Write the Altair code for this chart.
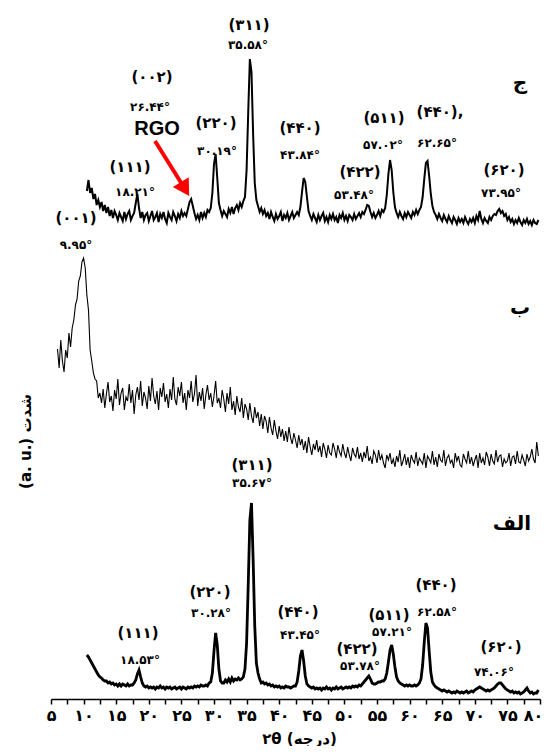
import altair as alt
import pandas as pd

# ---------------- data ----------------
X_STEP = 0.25

# trace ج (top) : first sample at 2θ = 10.5
C_START = 10.5
C_VALUES = [
    508, 519, 506, 511, 500, 505, 494, 499, 492, 497, 488, 494, 486, 492, 483, 489,
    481, 488, 484, 479, 486, 482, 478, 487, 480, 485, 488, 479, 483, 486, 496, 505,
    491, 481, 487, 479, 484, 486, 478, 483, 488, 479, 482, 486, 477, 485, 481, 487,
    480, 476, 486, 482, 479, 487, 483, 478, 485, 481, 488, 483, 486, 483, 490, 497,
    500, 493, 486, 480, 484, 479, 487, 481, 486, 482, 489, 487, 491, 506, 535, 545,
    521, 496, 489, 483, 488, 485, 482, 490, 486, 492, 485, 491, 494, 489, 496, 492,
    498, 502, 529, 587, 640, 627, 565, 516, 499, 493, 487, 491, 485, 489, 483, 486,
    480, 487, 482, 478, 485, 480, 483, 487, 478, 484, 481, 486, 479, 483, 487, 481,
    484, 487, 484, 492, 507, 521, 517, 502, 488, 483, 479, 485, 481, 477, 484, 479,
    483, 486, 478, 482, 477, 484, 480, 485, 479, 482, 476, 484, 481, 486, 479, 483,
    478, 484, 482, 479, 485, 480, 483, 486, 482, 487, 485, 489, 494, 493, 487, 482,
    486, 481, 484, 488, 483, 489, 487, 491, 504, 525, 539, 529, 507, 492, 486, 482,
    487, 483, 480, 486, 482, 487, 484, 481, 487, 484, 489, 485, 489, 492, 502, 520,
    536, 538, 523, 505, 493, 487, 484, 480, 485, 481, 478, 484, 480, 477, 483, 479,
    476, 482, 479, 475, 481, 477, 480, 476, 482, 478, 475, 480, 477, 481, 476, 483,
    479, 488, 480, 476, 481, 478, 476, 482, 479, 483, 485, 484, 488, 490, 486, 488,
    483, 485, 479, 482, 477, 480, 475, 479, 476, 481, 477, 474, 479, 476, 480, 475,
    478, 474, 479, 476, 475, 479,
]

# trace ب (middle) : first sample at 2θ = 6.0
B_START = 6.0
B_VALUES = [
    350, 331, 359, 338, 327, 349, 341, 366, 352, 371, 379, 394, 400, 418, 423, 437,
    441, 431, 404, 389, 349, 338, 326, 320, 318, 301, 306, 296, 310, 291, 305, 317,
    297, 303, 288, 309, 300, 320, 294, 306, 311, 289, 302, 298, 315, 296, 309, 285,
    304, 312, 299, 318, 293, 307, 301, 290, 313, 298, 321, 303, 295, 308, 289, 311,
    302, 316, 297, 305, 291, 310, 299, 322, 300, 294, 312, 303, 317, 296, 306, 289,
    309, 301, 318, 297, 305, 324, 293, 307, 298, 311, 290, 304, 314, 299, 306, 292,
    303, 318, 296, 301, 291, 309, 300, 287, 306, 295, 312, 289, 298, 284, 303, 292,
    287, 301, 281, 295, 290, 279, 296, 283, 276, 292, 281, 287, 273, 285, 270, 283,
    278, 266, 282, 271, 264, 279, 268, 260, 273, 262, 270, 258, 268, 257, 272, 261,
    255, 266, 259, 251, 264, 254, 260, 249, 258, 246, 262, 252, 244, 255, 249, 259,
    247, 253, 242, 256, 250, 241, 254, 246, 244, 256, 250, 241, 254, 247, 243, 255,
    246, 241, 252, 244, 238, 251, 245, 242, 252, 240, 246, 237, 247, 241, 253, 238,
    242, 235, 248, 244, 236, 249, 239, 244, 236, 231, 244, 239, 246, 235, 240, 232,
    243, 237, 249, 233, 238, 245, 234, 242, 231, 244, 239, 236, 247, 233, 241, 238,
    235, 246, 231, 243, 240, 236, 248, 234, 242, 232, 245, 239, 237, 249, 233, 241,
    244, 236, 239, 231, 246, 238, 243, 234, 232, 245, 240, 236, 248, 235, 242, 233,
    239, 244, 231, 246, 236, 241, 234, 247, 242, 233, 245, 238, 235, 249, 237, 243,
    244, 232, 240, 236, 238, 246, 233, 242, 243, 235, 248, 237, 236, 244, 239, 233,
    245, 238, 242, 250, 240, 236, 257, 243,
]

# trace الف (bottom) : first sample at 2θ = 10.5
A_START = 10.5
A_VALUES = [
    44, 42, 39, 36, 33, 30, 27, 24, 22, 21, 19, 18, 18, 16, 17, 15,
    16, 14, 15, 13, 15, 13, 15, 14, 13, 15, 13, 14, 14, 16, 19, 25,
    29, 22, 16, 13, 12, 13, 11, 12, 11, 12, 10, 12, 11, 13, 11, 12,
    10, 12, 11, 12, 10, 11, 12, 10, 11, 12, 10, 12, 11, 10, 12, 11,
    12, 11, 13, 12, 13, 12, 14, 13, 13, 14, 13, 16, 17, 26, 48, 66,
    54, 30, 18, 16, 16, 19, 17, 20, 17, 21, 18, 20, 19, 21, 19, 20,
    22, 30, 56, 114, 179, 196, 140, 73, 36, 26, 20, 16, 17, 15, 16, 14,
    15, 13, 14, 12, 13, 12, 13, 11, 12, 11, 13, 12, 12, 11, 12, 13,
    13, 17, 28, 43, 49, 38, 23, 15, 13, 12, 11, 12, 10, 11, 10, 11,
    9, 11, 10, 12, 10, 11, 9, 11, 10, 12, 10, 11, 12, 10, 11, 12,
    11, 12, 11, 13, 12, 13, 12, 14, 13, 15, 17, 19, 21, 23, 20, 16,
    15, 15, 16, 17, 17, 18, 18, 20, 26, 37, 49, 54, 45, 32, 22, 18,
    16, 15, 14, 13, 14, 13, 14, 13, 13, 14, 13, 14, 16, 20, 34, 57,
    76, 71, 48, 27, 17, 14, 12, 11, 10, 9, 8, 9, 8, 7, 8, 7,
    6, 7, 6, 8, 7, 6, 7, 6, 7, 8, 6, 7, 8, 7, 9, 10,
    11, 12, 11, 10, 9, 8, 9, 8, 9, 10, 11, 13, 15, 16, 16, 14,
    12, 10, 9, 8, 7, 8, 6, 7, 6, 7, 5, 6, 7, 9, 11, 8,
    6, 7, 5, 6, 6, 9,
]

# x-axis ticks
TICK_VALUES = [5, 10, 15, 20, 25, 30, 35, 40, 45, 50, 55, 60, 65, 70, 75, 80]
TICK_LABELS = ["۵", "۱۰", "۱۵", "۲۰", "۲۵", "۳۰", "۳۵", "۴۰", "۴۵", "۵۰",
               "۵۵", "۶۰", "۶۵", "۷۰", "۷۵", "۸۰"]

# Miller indices
IDX_TEXT = ["(۰۰۲)", "(۱۱۱)", "(۲۲۰)", "(۳۱۱)", "(۴۴۰)", "(۴۲۲)", "(۵۱۱)", "(۴۴۰),", "(۶۲۰)",
            "(۰۰۱)",
            "(۳۱۱)", "(۲۲۰)", "(۱۱۱)", "(۴۴۰)", "(۴۲۲)", "(۵۱۱)", "(۴۴۰)", "(۶۲۰)"]
IDX_X = [20.49, 17.12, 30.31, 35.37, 43.19, 52.39, 56.07, 64.66, 74.48,
         8.83,
         35.83, 29.39, 18.34, 42.88, 51.93, 56.84, 64.05, 74.02]
IDX_Y = [622, 532, 576, 674, 571, 527, 581, 587, 529,
         481,
         234, 107, 66, 87, 50, 84, 114, 52]

# peak positions
ANG_TEXT = ["۲۶.۴۴°", "۱۸.۲۱°", "۳۰.۱۹°", "۳۵.۵۸°", "۴۳.۸۴°", "۵۳.۴۸°", "۵۷.۰۲°", "۶۲.۶۵°", "۷۳.۹۵°",
            "۹.۹۵°",
            "۳۵.۶۷°", "۳۰.۲۸°", "۱۸.۵۳°", "۴۳.۴۵°", "۵۳.۷۸°", "۵۷.۲۱°", "۶۲.۵۸°", "۷۴.۰۶°"]
ANG_X = [20.18, 17.88, 30.46, 35.21, 43.19, 51.47, 55.92, 64.20, 74.02,
         8.83,
         35.83, 29.54, 18.65, 43.19, 52.39, 57.30, 64.20, 72.94]
ANG_Y = [592, 507, 548, 654, 544, 504, 554, 556, 506,
         454,
         216, 86, 39, 64, 33, 67, 87, 27]

# panel letters
PANEL_TEXT = ["ج", "ب", "الف"]
PANEL_X = [76.93, 76.93, 75.70]
PANEL_Y = [616, 391, 175]

# RGO note and arrow
RGO_TEXT = ["RGO"]
RGO_X = [21.26]
RGO_Y = [570]
ARROW_TAIL = (20.95, 558)
ARROW_HEAD = (25.55, 510)

# ---------------- tables ----------------
def trace(start, vals):
    return pd.DataFrame({"x": [start + X_STEP * i for i in range(len(vals))], "v": vals})

df_c = trace(C_START, C_VALUES)
df_b = trace(B_START, B_VALUES)
df_a = trace(A_START, A_VALUES)
df_idx = pd.DataFrame({"x": IDX_X, "v": IDX_Y, "t": IDX_TEXT})
df_ang = pd.DataFrame({"x": ANG_X, "v": ANG_Y, "t": ANG_TEXT})
df_pan = pd.DataFrame({"x": PANEL_X, "v": PANEL_Y, "t": PANEL_TEXT})
df_rgo = pd.DataFrame({"x": RGO_X, "v": RGO_Y, "t": RGO_TEXT})
df_arrow = pd.DataFrame({"x": [ARROW_TAIL[0]], "v": [ARROW_TAIL[1]],
                         "x2": [ARROW_HEAD[0]], "v2": [ARROW_HEAD[1]]})
df_head = pd.DataFrame({"x": [ARROW_HEAD[0]], "v": [ARROW_HEAD[1]]})

# ---------------- encodings ----------------
label_expr = ""
for val, lab in zip(TICK_VALUES, TICK_LABELS):
    label_expr += f"datum.value == {val} ? '{lab}' : "
label_expr += "''"

tick_positions = [5 + 2.5 * i for i in range(31)]

FONT = "DejaVu Sans"

x_axis = alt.Axis(
    values=tick_positions, labelExpr=label_expr, grid=False,
    tickSize=5, tickWidth=1.5, tickColor="black",
    domainColor="black", domainWidth=1.5,
    labelFont=FONT, labelFontWeight="bold", labelFontSize=16, labelColor="black",
    labelPadding=3, labelFlush=False, labelOverlap=False,
    labelOffset={"expr": "datum.value == 80 ? -7 : 0"},
    title="۲θ (درجه)", titleFont=FONT, titleFontSize=15, titleFontWeight="bold",
    titleColor="black", titleX=248, titleY=39, titleBaseline="middle",
)
y_axis = alt.Axis(
    domain=False, ticks=False, labels=False, grid=False,
    title="(a. u.) شدت", titleFont=FONT, titleFontSize=15, titleFontWeight="bold",
    titleColor="black", titleX=-26, titleY=431, titleAngle=270,
    titleBaseline="middle", titleAlign="center",
)
x_enc = alt.X("x:Q", scale=alt.Scale(domain=[5, 80], nice=False, zero=False), axis=x_axis)
y_enc = alt.Y("v:Q", scale=alt.Scale(domain=[0, 689], nice=False, zero=False), axis=y_axis)

line_c = alt.Chart(df_c).mark_line(color="black", strokeWidth=2.0).encode(x=x_enc, y=y_enc)
line_b = alt.Chart(df_b).mark_line(color="black", strokeWidth=1.1).encode(x=x_enc, y=y_enc)
line_a = alt.Chart(df_a).mark_line(color="black", strokeWidth=2.8).encode(x=x_enc, y=y_enc)

txt_idx = alt.Chart(df_idx).mark_text(font=FONT, fontWeight="bold", fontSize=15, color="black",
                                      align="center", baseline="middle").encode(x=x_enc, y=y_enc, text="t:N")
txt_ang = alt.Chart(df_ang).mark_text(font=FONT, fontWeight="bold", fontSize=12, color="black",
                                      align="center", baseline="middle").encode(x=x_enc, y=y_enc, text="t:N")
txt_pan = alt.Chart(df_pan).mark_text(font=FONT, fontWeight="bold", fontSize=20, color="black",
                                      align="center", baseline="middle").encode(x=x_enc, y=y_enc, text="t:N")
txt_rgo = alt.Chart(df_rgo).mark_text(font="Liberation Sans", fontWeight="bold", fontSize=20, color="black",
                                      align="center", baseline="middle").encode(x=x_enc, y=y_enc, text="t:N")
arrow = alt.Chart(df_arrow).mark_rule(color="#ff0000", strokeWidth=4).encode(
    x=x_enc, y=y_enc, x2="x2:Q", y2="v2:Q")
head = alt.Chart(df_head).mark_point(shape="triangle-up", angle=148.5, size=350, filled=True,
                                     color="#ff0000", opacity=1).encode(x=x_enc, y=y_enc)

# total drawing: 43 + 489 + 2 = 534 wide, 2 + 689 + 47 = 738 high (fits the page without shrinking)
chart = alt.layer(line_b, line_a, line_c, txt_idx, txt_ang, txt_pan, txt_rgo, arrow, head).properties(
    width=489, height=689,
    autosize=alt.AutoSizeParams(type="none"),
    padding={"left": 43, "top": 2, "right": 2, "bottom": 47},
    background="white",
).configure_view(stroke=None)

chart.save("out.html", embed_options={"renderer": "svg", "actions": False})
